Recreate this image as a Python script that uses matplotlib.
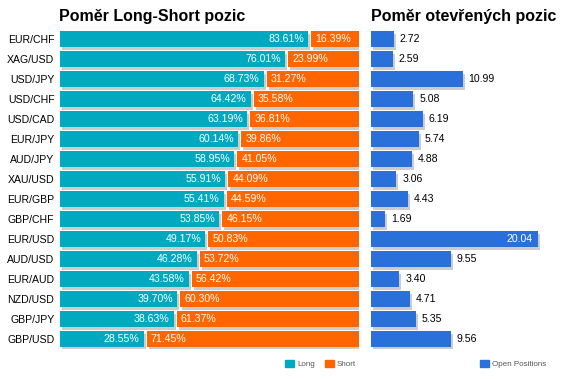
import matplotlib.pyplot as plt
import matplotlib.transforms as mtransforms
from matplotlib.patches import Patch

plt.rcParams['font.family'] = ['Liberation Sans', 'DejaVu Sans']

pairs = ['EUR/CHF', 'XAG/USD', 'USD/JPY', 'USD/CHF', 'USD/CAD', 'EUR/JPY', 'AUD/JPY', 'XAU/USD',
         'EUR/GBP', 'GBP/CHF', 'EUR/USD', 'AUD/USD', 'EUR/AUD', 'NZD/USD', 'GBP/JPY', 'GBP/USD']
long_pct = [83.61, 76.01, 68.73, 64.42, 63.19, 60.14, 58.95, 55.91,
            55.41, 53.85, 49.17, 46.28, 43.58, 39.70, 38.63, 28.55]
short_pct = [16.39, 23.99, 31.27, 35.58, 36.81, 39.86, 41.05, 44.09,
             44.59, 46.15, 50.83, 53.72, 56.42, 60.30, 61.37, 71.45]
open_pos = [2.72, 2.59, 10.99, 5.08, 6.19, 5.74, 4.88, 3.06,
            4.43, 1.69, 20.04, 9.55, 3.40, 4.71, 5.35, 9.56]

teal = '#00A8C0'
orange = '#FF6600'
blue = '#2970DB'
shadow = '#CCCCCC'
W, H = 567, 379
fs = 7.6

fig = plt.figure(figsize=(W / 100, H / 100), dpi=100)
ax1 = fig.add_axes([60 / W, 30 / H, 299 / W, 320 / H])
ax2 = fig.add_axes([371 / W, 30 / H, 189 / W, 320 / H])

y = list(range(len(pairs)))
bh = 0.8
sh1 = ax1.transData + mtransforms.ScaledTranslation(2 / 100, -3 / 100, fig.dpi_scale_trans)
sh2 = ax2.transData + mtransforms.ScaledTranslation(2 / 100, -3 / 100, fig.dpi_scale_trans)

lw = [v - 0.6 for v in long_pct]
sl = [v + 0.4 for v in long_pct]
sw = [100 - v for v in sl]
ax1.barh(y, lw, height=bh, color=shadow, transform=sh1, zorder=1)
ax1.barh(y, sw, left=sl, height=bh, color=shadow, transform=sh1, zorder=1)
ax1.barh(y, lw, height=bh, color=teal, zorder=2)
ax1.barh(y, sw, left=sl, height=bh, color=orange, zorder=2)
for i in y:
    ax1.annotate(f'{long_pct[i]:.2f}%', (lw[i], i), xytext=(-3, 0), textcoords='offset points',
                 ha='right', va='center', color='white', fontsize=fs, zorder=3)
    ax1.annotate(f'{short_pct[i]:.2f}%', (sl[i], i), xytext=(3, 0), textcoords='offset points',
                 ha='left', va='center', color='white', fontsize=fs, zorder=3)
ax1.set_xlim(0, 100)
ax1.set_ylim(15.5, -0.5)
ax1.set_yticks(y)
ax1.set_yticklabels(pairs, fontsize=fs)
ax1.tick_params(axis='y', length=0, pad=4)
ax1.set_xticks([])

ax2.barh(y, open_pos, height=bh, color=shadow, transform=sh2, zorder=1)
ax2.barh(y, open_pos, height=bh, color=blue, zorder=2)
for i in y:
    if open_pos[i] > 18:
        ax2.annotate(f'{open_pos[i]:.2f}', (open_pos[i], i), xytext=(-4, 0), textcoords='offset points',
                     ha='right', va='center', color='white', fontsize=fs, zorder=3)
    else:
        ax2.annotate(f'{open_pos[i]:.2f}', (open_pos[i], i), xytext=(4.3, 0), textcoords='offset points',
                     ha='left', va='center', color='black', fontsize=fs, zorder=3)
ax2.set_xlim(0, 189 / 8.33)
ax2.set_ylim(15.5, -0.5)
ax2.set_xticks([])
ax2.set_yticks([])

for ax in (ax1, ax2):
    for s in ax.spines.values():
        s.set_visible(False)

fig.text(59 / W, 1 - 17 / H, 'Poměr Long-Short pozic', fontsize=11.5, fontweight='bold',
         va='center', ha='left')
fig.text(371 / W, 1 - 17 / H, 'Poměr otevřených pozic', fontsize=11.5, fontweight='bold',
         va='center', ha='left')

fig.legend(handles=[Patch(color=teal, label='Long'), Patch(color=orange, label='Short')],
           loc='center left', bbox_to_anchor=(278 / W, 1 - 364 / H), ncol=2, frameon=False,
           fontsize=5.8, handlelength=1.1, handleheight=1.1, handletextpad=0.4, columnspacing=1.2,
           labelcolor='#555555')
fig.legend(handles=[Patch(color=blue, label='Open Positions')],
           loc='center left', bbox_to_anchor=(473 / W, 1 - 364 / H), frameon=False,
           fontsize=5.8, handlelength=1.1, handleheight=1.1, handletextpad=0.4,
           labelcolor='#555555')

fig.savefig('out.png', dpi=100)
